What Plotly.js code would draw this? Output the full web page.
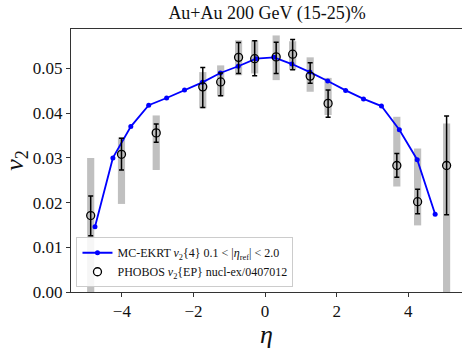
<!DOCTYPE html>
<html>
<head>
<meta charset="utf-8">
<script src="https://cdn.plot.ly/plotly-3.0.1.min.js"></script>
<style>html,body{margin:0;padding:0;background:#fff}#chart{width:462px;height:349px}</style>
</head>
<body>
<div id="chart"></div>
<script>
// MC-EKRT v2{4}
const ekrtEta = [-4.75,-4.25,-3.75,-3.25,-2.75,-2.25,-1.75,-1.25,-0.75,-0.25,0.25,0.75,1.25,1.75,2.25,2.75,3.25,3.75,4.25,4.75];
const ekrtV2  = [0.0146,0.0300,0.0370,0.0418,0.0434,0.0452,0.0469,0.0490,0.0505,0.0522,0.0525,0.0510,0.0492,0.0472,0.0451,0.0432,0.0416,0.0363,0.0296,0.0174];

// PHOBOS v2{EP}
const phobosEta   = [-4.87,-4.01,-3.04,-1.74,-1.24,-0.74,-0.29,0.31,0.77,1.26,1.76,3.68,4.26,5.07];
const phobosV2    = [0.0171,0.0308,0.0356,0.0459,0.0470,0.0525,0.0522,0.0526,0.0532,0.0483,0.0422,0.0283,0.0202,0.0283];
const phobosErrUp = [0.0215,0.0344,0.0376,0.0502,0.0490,0.0558,0.0562,0.0559,0.0565,0.0513,0.0452,0.0310,0.0230,0.0394];
const phobosErrLo = [0.0126,0.0273,0.0335,0.0413,0.0439,0.0489,0.0484,0.0489,0.0497,0.0467,0.0391,0.0257,0.0175,0.0173];
const phobosSysUp = [0.0300,0.0346,0.0395,0.0492,0.0507,0.0563,0.0563,0.0574,0.0561,0.0525,0.0479,0.0392,0.0321,0.0377];
const phobosSysLo = [-0.005,0.0197,0.0273,0.0411,0.0438,0.0485,0.0489,0.0474,0.0497,0.0448,0.0396,0.0236,0.0149,-0.005];

const xTicks = [-4,-2,0,2,4];
const yTicks = [0,0.01,0.02,0.03,0.04,0.05];

const serif = "Liberation Serif";

const sysBars = {
  type: 'bar',
  x: phobosEta,
  base: phobosSysLo,
  y: phobosSysUp.map((u,i)=>u-phobosSysLo[i]),
  width: 0.2,
  marker: {color: 'rgba(140,140,140,0.55)', line: {width: 0}},
  showlegend: false,
  hoverinfo: 'skip'
};

const ekrt = {
  type: 'scatter',
  mode: 'lines+markers',
  x: ekrtEta,
  y: ekrtV2,
  line: {color: 'rgb(0,0,255)', width: 1.8},
  marker: {color: 'rgb(0,0,255)', size: 5},
  name: 'MC-EKRT <i>v</i><sub>2</sub>{4} 0.1 &lt; |<i>η</i><sub>ref</sub>| &lt; 2.0'
};

const phobos = {
  type: 'scatter',
  mode: 'markers',
  x: phobosEta,
  y: phobosV2,
  marker: {symbol: 'circle-open', size: 8, color: 'black', line: {color: 'black', width: 1.3}},
  error_y: {
    type: 'data', symmetric: false,
    array: phobosErrUp.map((u,i)=>u-phobosV2[i]),
    arrayminus: phobosV2.map((v,i)=>v-phobosErrLo[i]),
    color: 'black', thickness: 1.5, width: 2.5
  },
  name: 'PHOBOS <i>v</i><sub>2</sub>{EP} nucl-ex/0407012'
};

const layout = {
  width: 462, height: 349,
  margin: {l: 71, r: 0, t: 29, b: 57},
  paper_bgcolor: '#fff', plot_bgcolor: '#fff',
  font: {family: serif, color: '#111', size: 16},
  title: {text: 'Au+Au 200 GeV (15-25)%', font: {family: serif, size: 18, color: '#111'}, x: 0.578, xanchor: 'center', y: 0.965, yanchor: 'middle'},
  barmode: 'overlay',
  showlegend: true,
  legend: {
    x: 0.014, y: 0.018, xanchor: 'left', yanchor: 'bottom',
    bgcolor: 'rgba(255,255,255,0.85)', bordercolor: '#ccc', borderwidth: 1,
    font: {family: serif, size: 12, color: '#111'},
    tracegroupgap: 0, itemwidth: 30
  },
  xaxis: {
    range: [-5.42, 5.50],
    tickvals: xTicks, ticktext: xTicks.map(v => v < 0 ? '\u2212' + Math.abs(v) : String(v)),
    ticks: 'outside', ticklen: 4, tickcolor: '#333', tickwidth: 1,
    showline: true, linecolor: '#333', linewidth: 1, mirror: true,
    showgrid: false, zeroline: false,
    tickfont: {family: serif, size: 17, color: '#111'},
    title: {text: '<i>η</i>', font: {family: serif, size: 26}, standoff: 6}
  },
  yaxis: {
    range: [0, 0.05884],
    tickvals: yTicks, ticktext: yTicks.map(v => v.toFixed(2)),
    ticks: 'outside', ticklen: 4, tickcolor: '#333', tickwidth: 1,
    showline: true, linecolor: '#333', linewidth: 1,
    showgrid: false, zeroline: false,
    tickfont: {family: serif, size: 17, color: '#111'},
    title: {text: '<i>v</i><sub>2</sub>', font: {family: serif, size: 26}, standoff: 6}
  }
};

Plotly.newPlot('chart', [sysBars, ekrt, phobos], layout, {staticPlot: true, displayModeBar: false});
</script>
</body>
</html>
